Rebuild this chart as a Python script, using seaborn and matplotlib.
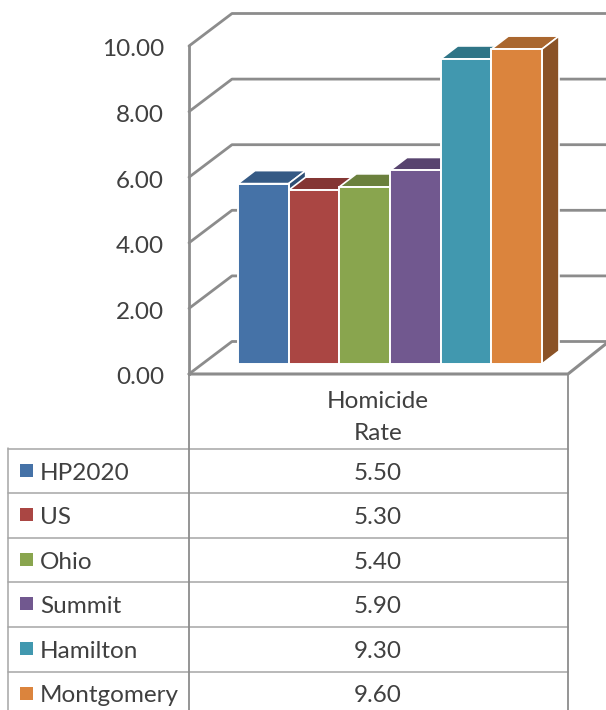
import matplotlib
matplotlib.use("Agg")
import matplotlib.pyplot as plt
from matplotlib.patches import Polygon, Rectangle
from matplotlib.transforms import ScaledTranslation
import pandas as pd
import seaborn as sns

areas = ["HP2020", "US", "Ohio", "Summit", "Hamilton", "Montgomery"]
rates = [5.50, 5.30, 5.40, 5.90, 9.30, 9.60]
metric = ["Homicide\nRate"]
yticks = [0, 2, 4, 6, 8, 10]
front = ["#4572A7", "#AA4643", "#89A54E", "#71588F", "#4198AF", "#DB843D"]
top = ["#355A85", "#843634", "#6B803D", "#58446F", "#2F7587", "#AA672F"]
side = ["#2E4F75", "#74302E", "#5E7035", "#4D3C62", "#296676", "#8A5226"]

W, H = 606, 710
GRAY = "#8C8C8C"
LINE = "#A6A6A6"
TXT = "#404040"
FS = 17.5

sns.set_theme(style="white")
plt.rcParams["font.family"] = ["Lato", "DejaVu Sans"]
plt.rcParams["font.weight"] = "normal"

df = pd.DataFrame({"metric": metric[0], "area": areas, "rate": rates})


def px_axes(fig, l, t, r, b):
    return fig.add_axes([l / W, 1 - b / H, (r - l) / W, (b - t) / H])


fig = plt.figure(figsize=(W / 100, H / 100), dpi=100)

# table, in pixel coordinates
tab = fig.add_axes([0, 0, 1, 1])
tab.set_xlim(0, W)
tab.set_ylim(H, 0)
tab.axis("off")
row_h = 44.6
row_top = 448.5
for i, (a, v, c) in enumerate(zip(areas, rates, front)):
    y0 = row_top + i * row_h
    tab.plot([8, 568], [y0, y0], color=LINE, lw=1.1)
    tab.add_patch(Rectangle((19.5, y0 + 15), 13, 13, fc=c, ec="none"))
    tab.text(40, y0 + 24.5, a, fontsize=FS, color=TXT, va="center", ha="left")
    tab.text(378, y0 + 24.5, "{0:.2f}".format(v), fontsize=FS, color=TXT, va="center", ha="center")
tab.plot([8, 8], [448, H], color=LINE, lw=1.1)
tab.plot([189, 189], [374, H], color=GRAY, lw=1.3)
tab.plot([568, 568], [374, H], color=GRAY, lw=1.3)
for lbl, y in zip(metric[0].split("\n"), [401, 433]):
    tab.text(378, y, lbl, fontsize=FS, color=TXT, va="center", ha="center")

# walls and floor
wall = px_axes(fig, 189, 46, 606, 374)
wall.patch.set_alpha(0)
wall.set_xlim(0, 417)
wall.set_ylim(0, 10)
sns.despine(ax=wall, top=True, right=True, bottom=True, left=False)
wall.spines["left"].set_color(GRAY)
wall.spines["left"].set_linewidth(2)
wall.set_xticks([])
wall.set_yticks(yticks)
wall.set_yticklabels(["{0:.2f}".format(t) for t in yticks], fontsize=FS, color=TXT)
wall.tick_params(axis="y", length=0, pad=18)
shift = ScaledTranslation(0, -2 / 100, fig.dpi_scale_trans)
for lab in wall.get_yticklabels():
    lab.set_transform(lab.get_transform() + shift)
back = 32.5 / 32.8
for t in yticks:
    wall.plot([0, 43, 417], [t, t + back, t + back], color=GRAY, lw=2, clip_on=False)
wall.plot([0, 379, 417], [0, 0, back * 0.93], color=GRAY, lw=2.2, clip_on=False)

# bars
ax = px_axes(fig, 238, 36, 542, 364)
ax.patch.set_alpha(0)
sns.barplot(data=df, x="metric", y="rate", hue="area", hue_order=areas, palette=front,
            saturation=1, width=1, gap=0, legend=False, ax=ax)
ax.set_xlim(-0.5, 0.5)
ax.set_ylim(0, 10)
ax.axis("off")
dx = 17 / 304
dy = 13 / 32.8
for i, b in enumerate(ax.patches):
    x0 = b.get_x()
    x1 = x0 + b.get_width()
    h = b.get_height()
    z = 3 + i
    ax.add_patch(Polygon([(x0, h), (x1, h), (x1 + dx, h + dy), (x0 + dx, h + dy)], fc=top[i],
                         ec="white", lw=1.2, clip_on=False, zorder=z))
    ax.add_patch(Polygon([(x1, 0), (x1 + dx, dy), (x1 + dx, h + dy), (x1, h)], fc=side[i],
                         ec="white", lw=1.2, clip_on=False, zorder=z))
    b.set_edgecolor("white")
    b.set_linewidth(1.4)
    b.set_clip_on(False)
    b.set_zorder(z + 0.5)

fig.savefig("out.png", dpi=100)
